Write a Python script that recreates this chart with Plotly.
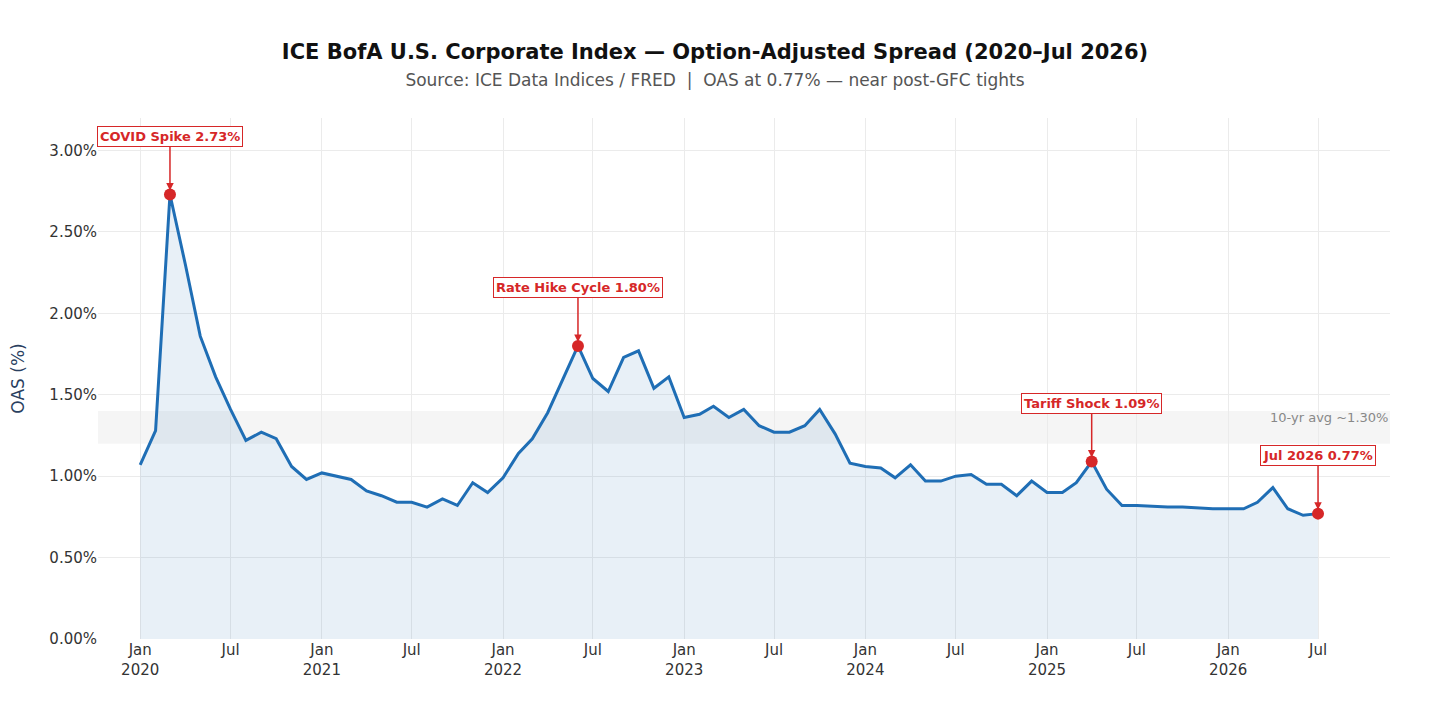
import pandas as pd
import plotly.graph_objects as go

# Monthly OAS readings (%), Jan 2020 - Jul 2026
dates = pd.date_range("2020-01-01", "2026-07-01", freq="MS")
oas = [
    1.07, 1.28, 2.73, 2.30, 1.86, 1.61, 1.41, 1.22, 1.27, 1.23, 1.06, 0.98,   # 2020
    1.02, 1.00, 0.98, 0.91, 0.88, 0.84, 0.84, 0.81, 0.86, 0.82, 0.96, 0.90,   # 2021
    0.99, 1.14, 1.23, 1.39, 1.59, 1.80, 1.60, 1.52, 1.73, 1.77, 1.54, 1.61,   # 2022
    1.36, 1.38, 1.43, 1.36, 1.41, 1.31, 1.27, 1.27, 1.31, 1.41, 1.26, 1.08,   # 2023
    1.06, 1.05, 0.99, 1.07, 0.97, 0.97, 1.00, 1.01, 0.95, 0.95, 0.88, 0.97,   # 2024
    0.90, 0.90, 0.96, 1.09, 0.92, 0.82, 0.82, 0.815, 0.81, 0.81, 0.805, 0.80, # 2025
    0.80, 0.80, 0.84, 0.93, 0.80, 0.76, 0.77,                                 # 2026
]

# x-axis ticks
tick_vals = pd.date_range("2020-01-01", "2026-07-01", freq="6MS")
tick_text = ["Jan<br>2020", "Jul", "Jan<br>2021", "Jul", "Jan<br>2022", "Jul",
             "Jan<br>2023", "Jul", "Jan<br>2024", "Jul", "Jan<br>2025", "Jul",
             "Jan<br>2026", "Jul"]

# Highlighted events
event_dates = ["2020-03-01", "2022-06-01", "2025-04-01", "2026-07-01"]
event_labels = ["COVID Spike 2.73%", "Rate Hike Cycle 1.80%", "Tariff Shock 1.09%", "Jul 2026 0.77%"]
event_values = [2.73, 1.80, 1.09, 0.77]

avg_band = [1.20, 1.40]
avg_label = "10-yr avg ~1.30%"

RED = "#d62728"
BLUE = "#1f6eb5"

fig = go.Figure()

# 10-yr average band
fig.add_shape(type="rect", xref="paper", yref="y", x0=0, x1=1,
              y0=avg_band[0], y1=avg_band[1],
              fillcolor="rgba(0,0,0,0.04)", line=dict(width=0), layer="below")

fig.add_trace(go.Scatter(x=dates, y=oas, mode="lines",
                         line=dict(color=BLUE, width=3),
                         fill="tozeroy", fillcolor="rgba(31,110,181,0.10)",
                         hoverinfo="x+y"))

fig.add_trace(go.Scatter(x=event_dates, y=event_values, mode="markers",
                         marker=dict(color=RED, size=12), hoverinfo="skip"))

for d, lab, v in zip(event_dates, event_labels, event_values):
    fig.add_annotation(x=d, y=v, text=f"<b>{lab}</b>", showarrow=True,
                       ax=0, ay=-58, arrowhead=2, arrowsize=1, arrowwidth=1.5,
                       arrowcolor=RED, standoff=4,
                       font=dict(color=RED, size=13),
                       bgcolor="white", bordercolor=RED, borderwidth=1, borderpad=2)

fig.add_annotation(x=1, xref="paper", y=1.30, yref="y", text=avg_label,
                   showarrow=False, xanchor="right", yanchor="bottom",
                   font=dict(color="#888888", size=13))

title = ("<b>ICE BofA U.S. Corporate Index — Option-Adjusted Spread (2020–Jul 2026)</b><br>"
         "<span style='font-size:17px;color:#555555'>Source: ICE Data Indices / FRED  |  "
         "OAS at 0.77% — near post-GFC tights</span>")

fig.update_layout(
    title=dict(text=title, x=0.5, xanchor="center", y=0.929, yanchor="top",
               font=dict(size=21, color="#111111")),
    template="plotly_white",
    font=dict(family="DejaVu Sans", size=15, color="#333333"),
    showlegend=False,
    width=1414, height=720,
    margin=dict(l=90, r=32, t=110, b=89),
    xaxis=dict(range=["2019-10-08", "2026-11-23"], tickvals=tick_vals, ticktext=tick_text,
               gridcolor="#ebebeb", showline=False, zeroline=False),
    yaxis=dict(range=[0, 3.2], dtick=0.5, tickformat=".2f", ticksuffix="%",
               gridcolor="#ebebeb", zeroline=False, automargin=False,
               title=dict(text="OAS (%)", standoff=30,
                          font=dict(size=17, color="#2a3f5f"))),
)

fig.write_html("out.html")
